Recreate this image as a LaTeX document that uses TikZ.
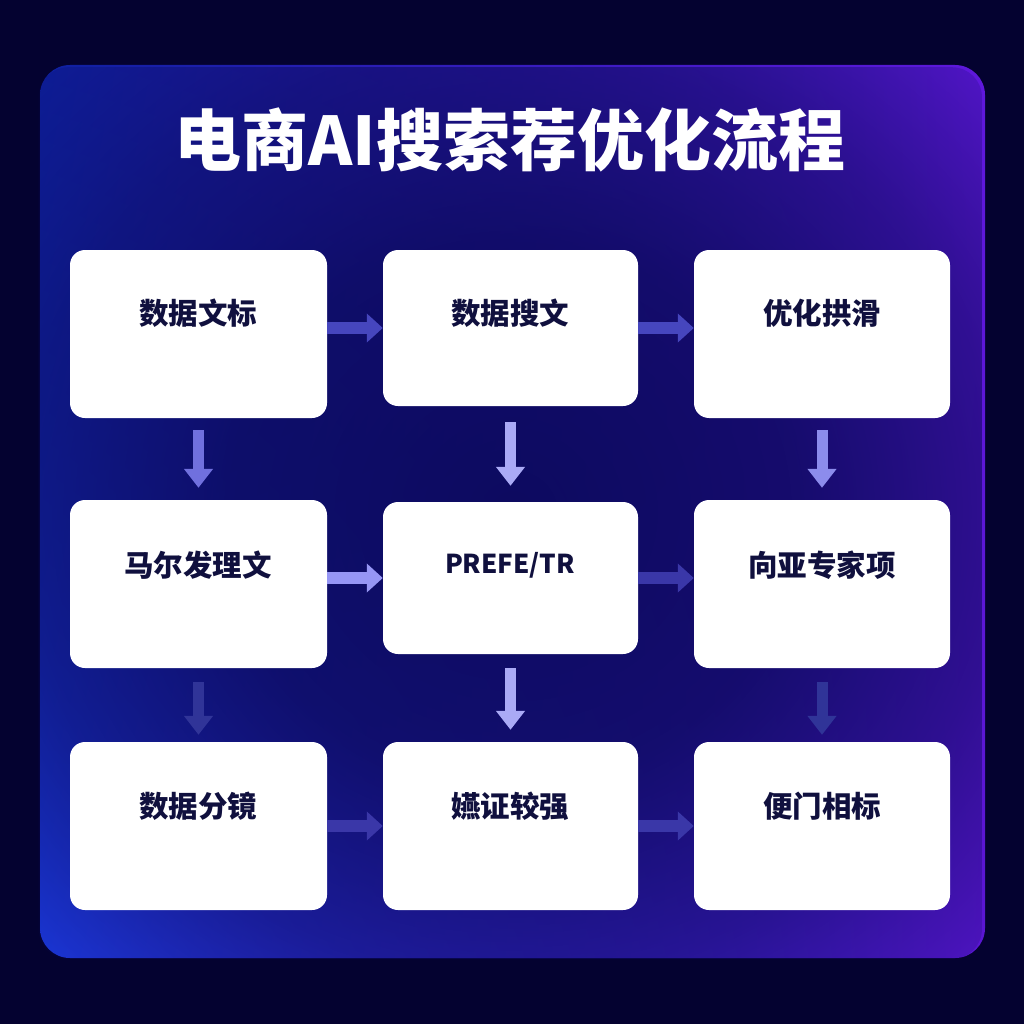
\documentclass[tikz,border=0pt]{standalone}
\usepackage{fontspec}
\setmainfont{Noto Sans CJK SC}
\usetikzlibrary{arrows.meta,fadings,shadings}
\definecolor{bgout}{RGB}{4,2,48}
\definecolor{pUL}{RGB}{14,32,160}
\definecolor{pUR}{RGB}{95,24,220}
\definecolor{pLL}{RGB}{30,62,235}
\definecolor{pLR}{RGB}{90,22,210}
\definecolor{pMid}{RGB}{8,8,84}
\definecolor{txt}{RGB}{16,16,62}
\definecolor{arA}{RGB}{70,70,190}
\definecolor{arB}{RGB}{150,150,245}
\definecolor{arC}{RGB}{58,55,168}
\definecolor{arD}{RGB}{112,112,222}
\definecolor{arE}{RGB}{170,170,246}
\definecolor{arF}{RGB}{140,140,236}
\definecolor{arG}{RGB}{48,52,152}
\pgfdeclareradialshading{fadeshade}{\pgfpoint{0bp}{0bp}}{color(0bp)=(white!90!black); color(15bp)=(white!80!black); color(26bp)=(white!52!black); color(35bp)=(white!16!black); color(42bp)=(black); color(72bp)=(black)}
\pgfdeclarefading{cfade}{\pgfuseshading{fadeshade}}
\tikzset{
  card/.style={fill=white, rounded corners=15pt, inner sep=0pt, draw=none},
  lbl/.style={font=\fontsize{29.5}{32}\selectfont\bfseries, text=txt, inner sep=0pt},
  harrow/.style={line width=12pt, -{Triangle[width=28pt,length=16pt]}},
  varrow/.style={line width=11pt, -{Triangle[width=28pt,length=19pt]}}
}
\begin{document}
\begin{tikzpicture}[x=1pt,y=-1pt]
\useasboundingbox (0,0) rectangle (1024,1024);
\fill[bgout] (0,0) rectangle (1024,1024);
\shade[upper left=pUL, upper right=pUR, lower left=pLL, lower right=pLR, rounded corners=30pt] (40,65) rectangle (985,958);
\fill[pMid, path fading=cfade, rounded corners=30pt] (40,65) rectangle (985,958);
\node[font=\fontsize{67}{70}\selectfont\bfseries, text=white, inner sep=0pt] (title) at (510,140) {电商AI搜索荐优化流程};

\node[card, minimum width=257pt, minimum height=168pt] (a1) at (198.5,334) {};
\node[card, minimum width=255pt, minimum height=156pt] (b1) at (510.5,328) {};
\node[card, minimum width=256pt, minimum height=168pt] (c1) at (822,334) {};
\node[card, minimum width=257pt, minimum height=168pt] (a2) at (198.5,584) {};
\node[card, minimum width=255pt, minimum height=152pt] (b2) at (510.5,578) {};
\node[card, minimum width=256pt, minimum height=168pt] (c2) at (822,584) {};
\node[card, minimum width=257pt, minimum height=168pt] (a3) at (198.5,826) {};
\node[card, minimum width=255pt, minimum height=168pt] (b3) at (510.5,826) {};
\node[card, minimum width=256pt, minimum height=168pt] (c3) at (822,826) {};

\node[lbl] (ta1) at (198,313) {数据文标};
\node[lbl] (tb1) at (510,313) {数据搜文};
\node[lbl] (tc1) at (822,313) {优化拱滑};
\node[lbl] (ta2) at (198,565) {马尔发理文};
\node[lbl, font=\fontsize{26}{30}\selectfont\bfseries] (tb2) at (510,565) {PREFE/TR};
\node[lbl] (tc2) at (822,565) {向亚专家项};
\node[lbl] (ta3) at (198,806) {数据分镜};
\node[lbl] (tb3) at (510,806) {嬿证较强};
\node[lbl] (tc3) at (822,806) {便门相标};

% horizontal connectors
\draw[harrow, arA] (a1.east |- b1.west) -- (b1.west);
\draw[harrow, arA] (b1.east) -- (c1.west |- b1.east);
\draw[harrow, arB] (a2.east |- b2.west) -- (b2.west);
\draw[harrow, arC] (b2.east) -- (c2.west |- b2.east);
\draw[harrow, arC] (a3.east) -- (b3.west);
\draw[harrow, arC] (b3.east) -- (c3.west);
% vertical connectors
\draw[varrow, arD, shorten <=12pt, shorten >=12pt] (a1.south) -- (a2.north);
\draw[varrow, arE, shorten <=16pt, shorten >=16pt] (b1.south) -- (b2.north);
\draw[varrow, arF, shorten <=12pt, shorten >=12pt] (c1.south) -- (c2.north);
\draw[varrow, arG, shorten <=14pt, shorten >=7pt] (a2.south) -- (a3.north);
\draw[varrow, arE, shorten <=14pt, shorten >=12pt] (b2.south) -- (b3.north);
\draw[varrow, arG, shorten <=14pt, shorten >=7pt] (c2.south) -- (c3.north);
\end{tikzpicture}
\end{document}
